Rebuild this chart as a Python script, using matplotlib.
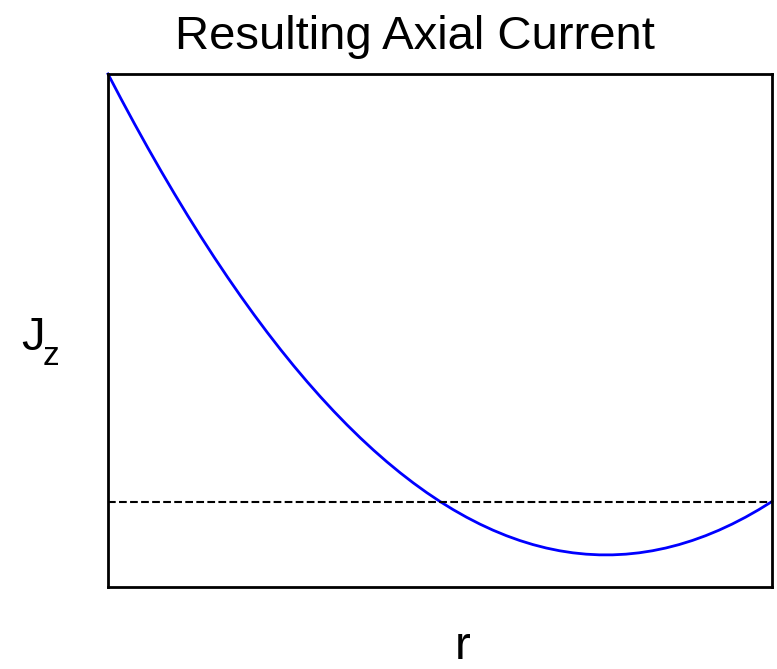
import matplotlib
matplotlib.use("Agg")
import matplotlib.pyplot as plt

plt.rcParams['font.family'] = ['Liberation Sans', 'DejaVu Sans']

# radial position (normalised) and axial current density
r = [0.00, 0.02, 0.04, 0.06, 0.08, 0.10, 0.12, 0.14, 0.16, 0.18, 0.20, 0.22, 0.24,
     0.26, 0.28, 0.30, 0.32, 0.34, 0.36, 0.38, 0.40, 0.42, 0.44, 0.46, 0.48, 0.50,
     0.52, 0.54, 0.56, 0.58, 0.60, 0.62, 0.64, 0.66, 0.68, 0.70, 0.72, 0.74, 0.76,
     0.78, 0.80, 0.82, 0.84, 0.86, 0.88, 0.90, 0.92, 0.94, 0.96, 0.98, 1.00]
jz = [1.0000, 0.9408, 0.8832, 0.8272, 0.7728, 0.7200, 0.6688, 0.6192, 0.5712,
      0.5248, 0.4800, 0.4368, 0.3952, 0.3552, 0.3168, 0.2800, 0.2448, 0.2112,
      0.1792, 0.1488, 0.1200, 0.0928, 0.0672, 0.0432, 0.0208, 0.0000, -0.0192,
      -0.0368, -0.0528, -0.0672, -0.0800, -0.0912, -0.1008, -0.1088, -0.1152,
      -0.1200, -0.1232, -0.1248, -0.1248, -0.1232, -0.1200, -0.1152, -0.1088,
      -0.1008, -0.0912, -0.0800, -0.0672, -0.0528, -0.0368, -0.0192, 0.0000]
zero_level = 0.0

fig = plt.figure(figsize=(7.77, 6.69), dpi=100)
ax = fig.add_axes([108 / 777, 1 - 587 / 669, 664 / 777, 513 / 669])

ax.plot(r, jz, color='#0000ff', lw=2, clip_on=False, solid_joinstyle='round')
ax.axhline(zero_level, color='black', lw=1.5, linestyle='--')

ax.set_xlim(0, 1)
ax.set_ylim(-0.2, 1.0)
ax.set_xticks([])
ax.set_yticks([])
for sp in ax.spines.values():
    sp.set_linewidth(2)

fig.text(415 / 777, 1 - 49 / 669, 'Resulting Axial Current', fontsize=34,
         ha='center', va='baseline')
fig.text(21 / 777, 1 - 350 / 669, 'J', fontsize=34, ha='left', va='baseline')
fig.text(43 / 777, 1 - 365 / 669, 'z', fontsize=24, ha='left', va='baseline')
fig.text(463 / 777, 1 - 659 / 669, 'r', fontsize=34, ha='center', va='baseline')

fig.savefig('out.png', dpi=100)
